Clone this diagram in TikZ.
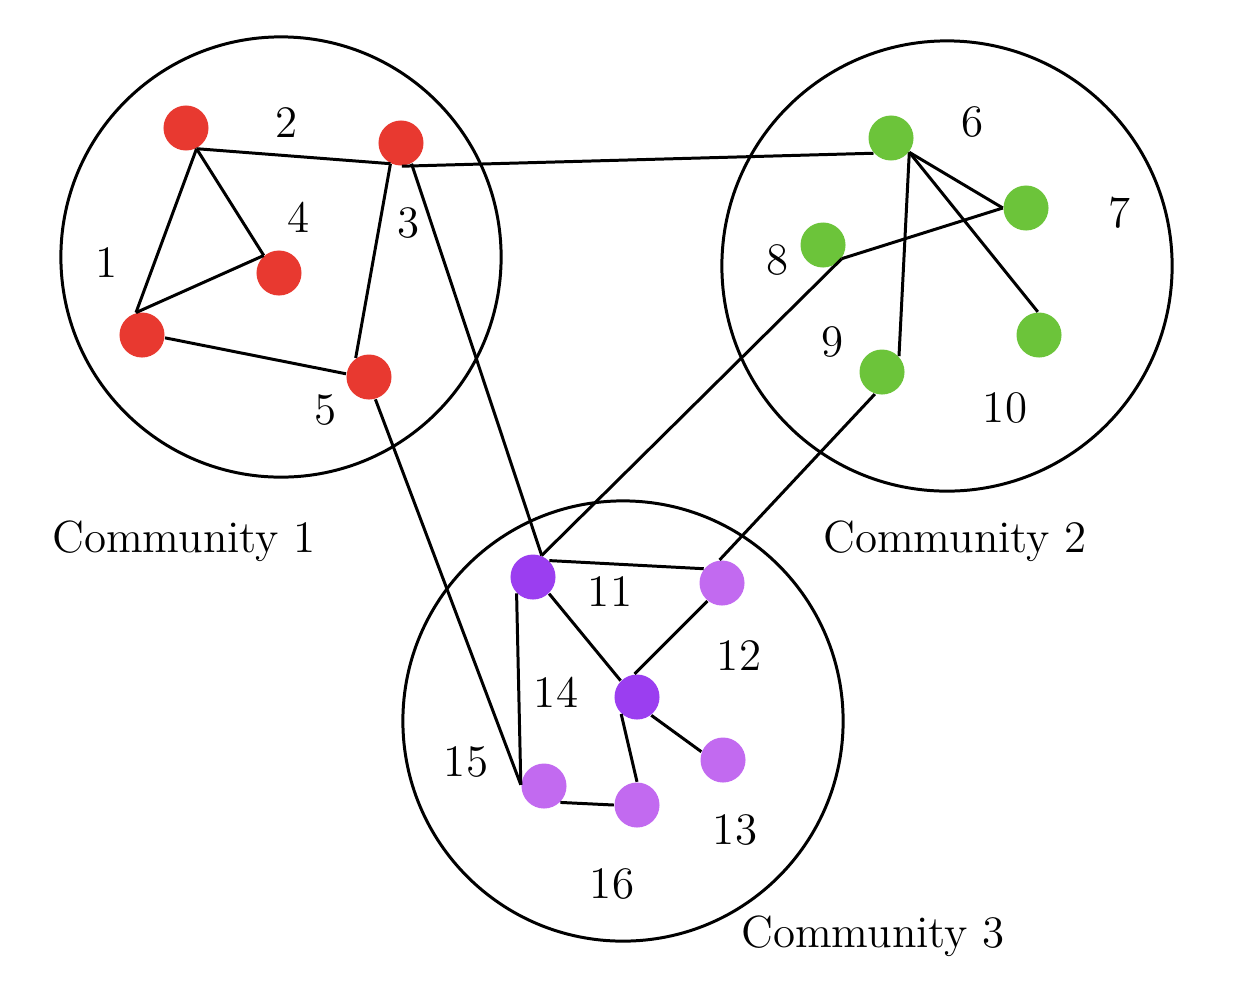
\documentclass[tikz,border=0pt]{standalone}
\usetikzlibrary{positioning}

\definecolor{vred}{RGB}{232,57,48}
\definecolor{vgreen}{RGB}{108,196,58}
\definecolor{vviolet}{RGB}{155,62,240}
\definecolor{vlilac}{RGB}{194,106,240}

\begin{document}
\begin{tikzpicture}
            [x=0.01cm, y=-0.01cm,
            font=\fontsize{12.8}{15}\selectfont,
            vertex/.style={
                circle,
                inner sep=0pt,
                minimum size=0.45cm
            },
            community/.style={
                circle,
                draw,
                line width=0.85pt,
                inner sep=0pt
            },
            line/.style={
                draw, line width=0.85pt
            },
            redv/.style={vertex, fill=vred},
            greenv/.style={vertex, fill=vgreen},
            violetv/.style={vertex, fill=vviolet},
            lilacv/.style={vertex, fill=vlilac}
            ]

            \useasboundingbox (0,0) rectangle (1240,984);

            % Community circles
            \node[community, minimum size=4.4cm] (com1) at (281,257) {};
            \node[community, minimum size=4.5cm] (com2) at (947,266) {};
            \node[community, minimum size=4.4cm] (com3) at (623,721) {};

            \node (comlab1) at (184,541) {Community 1};
            \node (comlab2) at (955,541) {Community 2};
            \node (comlab3) at (873,936) {Community 3};

            % Vertices
            \foreach \name/\kind/\x/\y in {v1/redv/142/335, v2/redv/186/128, v3/redv/401/143,
                v4/redv/279/273, v5/redv/369/377,
                v6/greenv/891/138, v7/greenv/1026/208, v8/greenv/823/245,
                v9/greenv/882/372, v10/greenv/1039/335,
                v11/violetv/533/577, v12/lilacv/722/583, v13/lilacv/723/760,
                v14/violetv/637/697, v15/lilacv/544/786, v16/lilacv/637/805}{
                \node[\kind] (\name) at (\x,\y) {};
            }

            % Numbers
            \foreach \num/\x/\y in {1/107/263, 2/287/123, 3/409/223, 4/299/217, 5/326/410,
                6/973/122, 7/1120/213, 8/778/260, 9/833/342, 10/1005/408,
                11/610/592, 12/739/656, 13/735/830, 14/556/692, 15/466/762, 16/612/884}{
                \node (lab\num) at (\x,\y) {\num};
            }

            % Edges
            \foreach \a/\b in {v2.-63/v3.-117, v2.-63/v4.131, v2.-63/v1.105, v1.105/v4.131,
                v1.-7/v5.172, v3.-117/v5.125, v3.-88/v6.-139, v3.-63/v11.68, v5.-74/v15.177,
                v6.-38/v7.180, v6.-38/v10.93, v6.-38/v9.43, v8.-36/v7.180, v8.-36/v11.68,
                v9.-108/v12.96,
                v11.45/v12.142, v11.-135/v15.177, v11.-46/v14.135, v12.-129/v14.96,
                v14.-52/v13.159, v14.-133/v16.90, v15.-45/v16.180}{
                \path [line] (\a) -- (\b);
            }
\end{tikzpicture}
\end{document}
